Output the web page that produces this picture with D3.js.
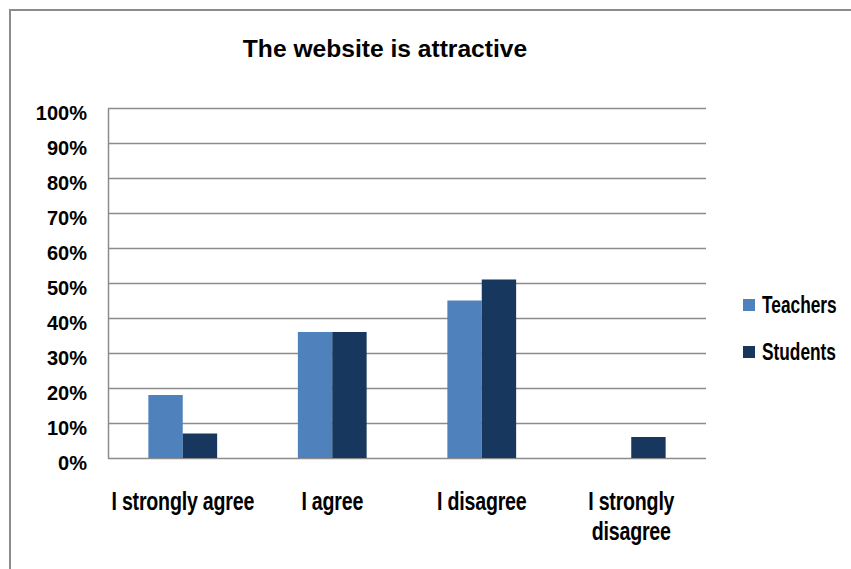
<!DOCTYPE html>
<html>
<head>
<meta charset="utf-8">
<script src="https://cdn.jsdelivr.net/npm/d3@7/dist/d3.min.js"></script>
<style>
  html, body { margin: 0; padding: 0; background: #fff; }
  svg { display: block; }
  text { font-family: "Liberation Sans", Arial, "Helvetica Neue", sans-serif; font-weight: bold; fill: #000; }
</style>
</head>
<body>
<svg id="chart" width="851" height="569"></svg>
<script>
// Survey answers to "The website is attractive" (share of respondents)
const categories = ["I strongly agree", "I agree", "I disagree", "I strongly disagree"];
const seriesNames = ["Teachers", "Students"];
const teachers = [0.18, 0.36, 0.45, 0.00];
const students = [0.07, 0.36, 0.51, 0.06];
const yTicks = [0, 0.1, 0.2, 0.3, 0.4, 0.5, 0.6, 0.7, 0.8, 0.9, 1.0];
const titleText = "The website is attractive";

const colors = { Teachers: "#4F81BD", Students: "#17375E" };
const values = { Teachers: teachers, Students: students };

const svg = d3.select("#chart");

// outer chart frame
svg.append("rect")
  .attr("x", 10).attr("y", 10)
  .attr("width", 860).attr("height", 580)
  .attr("fill", "none").attr("stroke", "#8c8c8c").attr("stroke-width", 2);

const plot = { left: 108, right: 706, top: 108, bottom: 458 };

const x0 = d3.scaleBand()
  .domain(categories)
  .range([plot.left, plot.right])
  .paddingInner(0.54)
  .paddingOuter(0.27);

const x1 = d3.scaleBand()
  .domain(seriesNames)
  .range([0, x0.bandwidth()]);

const y = d3.scaleLinear().domain([0, 1]).range([plot.bottom, plot.top]);

// tall condensed lettering: narrow font size, stretched vertically
const stretch = 1.35;

// gridlines
svg.append("g")
  .selectAll("line")
  .data(yTicks)
  .join("line")
  .attr("x1", plot.left).attr("x2", plot.right)
  .attr("y1", d => Math.round(y(d)) + 0.5)
  .attr("y2", d => Math.round(y(d)) + 0.5)
  .attr("stroke", "#8c8c8c").attr("stroke-width", 1.3);

// bars
const groups = svg.append("g")
  .selectAll("g")
  .data(categories)
  .join("g")
  .attr("transform", d => `translate(${x0(d)},0)`);

groups.selectAll("rect")
  .data((c, i) => seriesNames.map(s => ({ s, v: values[s][i] })))
  .join("rect")
  .filter(d => d.v > 0)
  .attr("x", d => x1(d.s))
  .attr("y", d => y(d.v))
  .attr("width", x1.bandwidth())
  .attr("height", d => y(0) - y(d.v))
  .attr("fill", d => colors[d.s]);

// y axis
const yAxis = svg.append("g")
  .attr("transform", `translate(${plot.left},0)`)
  .call(d3.axisLeft(y).tickValues(yTicks).tickFormat(d3.format(".0%"))
    .tickSize(0).tickSizeOuter(0).tickPadding(21));
yAxis.select(".domain").attr("stroke", "#8c8c8c").attr("stroke-width", 1.5);
yAxis.selectAll("text")
  .attr("dy", "0.56em")
  .attr("font-family", null)
  .attr("font-size", null)
  .style("font-size", "20px");

// category labels (wrapped to fit the band)
const labelLines = {
  "I strongly agree": ["I strongly agree"],
  "I agree": ["I agree"],
  "I disagree": ["I disagree"],
  "I strongly disagree": ["I strongly", "disagree"]
};
const xl = svg.append("g");
categories.forEach(c => {
  const cx = x0(c) + x0.bandwidth() / 2;
  labelLines[c].forEach((line, k) => {
    xl.append("text")
      .attr("transform", `translate(${cx},${510 + k * 30}) scale(1,${stretch})`)
      .attr("text-anchor", "middle")
      .style("font-size", "19.6px")
      .style("letter-spacing", "-0.2px")
      .text(line);
  });
});

// title
svg.append("text")
  .attr("x", 385)
  .attr("y", 57)
  .attr("text-anchor", "middle")
  .style("font-size", "24.6px")
  .text(titleText);

// legend
const legend = svg.append("g");
seriesNames.forEach((s, i) => {
  const ly = 299 + i * 47;
  legend.append("rect")
    .attr("x", 743).attr("y", ly)
    .attr("width", 12).attr("height", 12)
    .attr("fill", colors[s]);
  legend.append("text")
    .attr("transform", `translate(762,${ly + 14}) scale(1,${stretch})`)
    .style("font-size", "17.3px")
    .text(s);
});
</script>
</body>
</html>
